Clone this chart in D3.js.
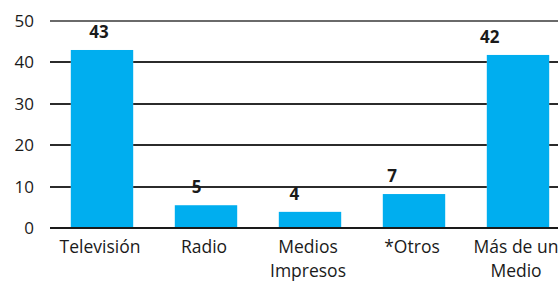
<!DOCTYPE html>
<html>
<head>
<meta charset="utf-8">
<script src="https://cdn.jsdelivr.net/npm/d3@7"></script>
<style>
  html, body { margin: 0; padding: 0; background: #fff; overflow: hidden; }
  svg { display: block; font-family: "Open Sans", sans-serif; }
</style>
</head>
<body>
<svg id="chart" width="558" height="281"></svg>
<script>
const categories = [["Televisión"], ["Radio"], ["Medios", "Impresos"], ["*Otros"], ["Más de un", "Medio"]];
const values = [43, 5.5, 3.9, 8.2, 41.8];
const valueLabels = ["43", "5", "4", "7", "42"];
const yTicks = [0, 10, 20, 30, 40, 50];

const svg = d3.select("#chart");
const plotLeft = 50, plotRight = 558, plotTop = 21, plotBottom = 228;

const x = d3.scaleBand().domain(d3.range(categories.length)).range([plotLeft, 570]).paddingInner(0.4).paddingOuter(0.2);
const y = d3.scaleLinear().domain([0, 50]).range([plotBottom, plotTop]);

// y tick labels
const yLab = d3.axisLeft(y).tickValues(yTicks).tickSize(0).tickPadding(16);
const ya = svg.append("g").attr("transform", `translate(${plotLeft},0)`).call(yLab);
ya.select(".domain").remove();
ya.selectAll("text").attr("font-size", 17).attr("fill", "#1a1a1a").attr("font-family", "Open Sans, sans-serif");

// bars
svg.append("g").selectAll("rect").data(values).join("rect")
  .attr("x", (d, i) => x(i)).attr("width", x.bandwidth())
  .attr("y", d => y(d)).attr("height", d => y(0) - y(d))
  .attr("fill", "#00AEEF");

// gridlines in the gaps between bars (so bars appear in front)
const gridSegs = [];
yTicks.filter(t => t > 0).forEach(t => {
  let start = plotLeft;
  values.forEach((v, i) => {
    if (v >= t) {
      gridSegs.push({ t, x1: start, x2: x(i) });
      start = x(i) + x.bandwidth();
    }
  });
  gridSegs.push({ t, x1: start, x2: plotRight });
});
svg.append("g").selectAll("rect").data(gridSegs).join("rect")
  .attr("x", d => d.x1).attr("width", d => Math.max(0, d.x2 - d.x1))
  .attr("y", d => Math.round(y(d.t)) - 1).attr("height", 2)
  .attr("fill", d => d.t === 50 ? "#6a6a6a" : "#2b2b2b");

// baseline
svg.append("rect").attr("x", plotLeft).attr("width", plotRight - plotLeft)
  .attr("y", plotBottom - 1).attr("height", 2).attr("fill", "#1a1a1a");

// value labels
svg.append("g").selectAll("text").data(values).join("text")
  .attr("x", (d, i) => x(i) + x.bandwidth() / 2 - 3 - 6.3 * i)
  .attr("y", d => y(d) - 12)
  .attr("text-anchor", "middle").attr("font-size", 17).attr("font-weight", "bold").attr("fill", "#1a1a1a")
  .text((d, i) => valueLabels[i]);

// category labels
const cat = svg.append("g").selectAll("text").data(categories).join("text")
  .attr("text-anchor", "middle").attr("font-size", 17.5).attr("fill", "#1a1a1a")
  .attr("x", (d, i) => x(i) + x.bandwidth() / 2 - 2)
  .attr("y", 253);
cat.selectAll("tspan").data(d => d).join("tspan")
  .attr("x", function() { return d3.select(this.parentNode).attr("x"); })
  .attr("dy", (d, j) => j === 0 ? 0 : 24)
  .text(d => d);
</script>
</body>
</html>
